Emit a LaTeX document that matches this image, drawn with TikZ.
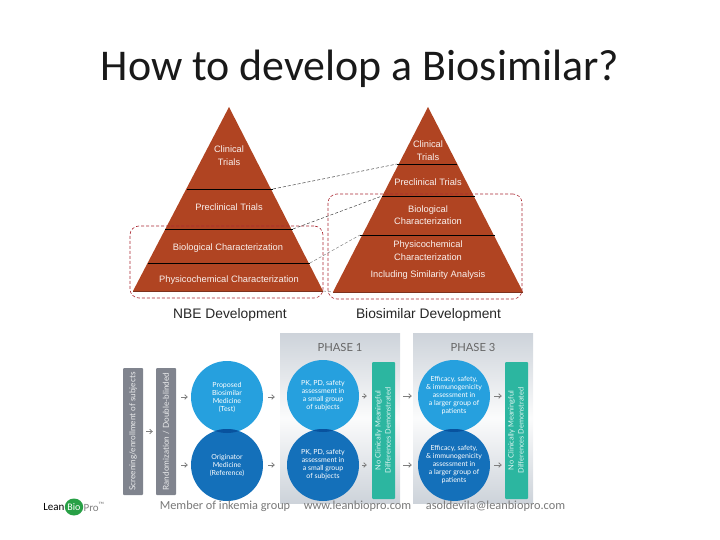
\documentclass[tikz,border=0pt]{standalone}
\usepackage{fontspec}
\usepackage{graphicx}
\setmainfont{Liberation Sans}
\newfontfamily\titlefont{Carlito}
\newfontfamily\trialfont{Lato}
\usetikzlibrary{shapes.geometric, arrows.meta}
\definecolor{rust}{RGB}{176, 68, 34}
\definecolor{rustdark}{RGB}{125, 50, 30}
\definecolor{dashred}{RGB}{170, 40, 50}
\definecolor{slategray}{RGB}{128, 132, 142}
\definecolor{skyblue}{RGB}{38, 160, 222}
\definecolor{deepblue}{RGB}{20, 112, 186}
\definecolor{lensblue}{RGB}{8, 82, 158}
\definecolor{teal}{RGB}{44, 182, 160}
\definecolor{panelgray}{RGB}{205, 211, 218}
\definecolor{footgray}{RGB}{120, 120, 120}
\definecolor{logogreen}{RGB}{40, 160, 70}
\tikzset{
  pyramid/.style={fill=rust, draw=none},
  tierline/.style={draw=black, line width=0.7pt},
  pyrlabel/.style={text=white!92!rust, font=\fontsize{9.3}{10}\selectfont, inner sep=0pt, align=center},
  caption/.style={text=black!85, font=\fontsize{13.8}{16}\selectfont, inner sep=0pt},
  similar/.style={draw=dashred, densely dashed, line width=0.6pt, rounded corners=9pt},
  linkline/.style={draw=black!75, densely dashed, line width=0.5pt},
  greybar/.style={fill=slategray, rounded corners=1pt, minimum width=20pt, minimum height=127pt, inner sep=0pt, text=white!85!slategray, font=\trialfont\fontsize{8.2}{10}\selectfont},
  tealbar/.style={fill=teal, rounded corners=1pt, minimum width=23pt, minimum height=137pt, inner sep=0pt, text=white!85!teal, font=\trialfont\fontsize{7.4}{10}\selectfont},
  topdisc/.style={circle, fill=skyblue, minimum size=72pt, inner sep=0pt, text=white, align=center, font=\trialfont\fontsize{7}{8}\selectfont},
  lowdisc/.style={circle, fill=deepblue, minimum size=72pt, inner sep=0pt, text=white, align=center, font=\trialfont\fontsize{7}{8}\selectfont},
  panel/.style={top color=panelgray, bottom color=panelgray, middle color=white!92!panelgray, minimum width=120pt, minimum height=170pt, inner sep=0pt},
  phasetitle/.style={text=black!60, inner sep=0pt, font=\trialfont\fontsize{11.2}{12}\selectfont},
  flow/.style={draw=gray, line width=0.8pt, -{Straight Barb[length=2.5pt,width=4.5pt]}},
  footer/.style={text=footgray, inner sep=0pt, font=\titlefont\fontsize{12.3}{13}\selectfont}
}
\begin{document}
\begin{tikzpicture}[x=1pt, y=-1pt]
  \useasboundingbox (0,0) rectangle (720,540);
  \node[inner sep=0pt, font=\titlefont\fontsize{43.9}{46}\selectfont, text=black!90] (title) at (360,69) {How to develop a Biosimilar?};

  % NBE pyramid
  \coordinate (nbeapex) at (229,107);
  \coordinate (nbeleft) at (133,291);
  \coordinate (nberight) at (323,291);
  \coordinate (nbeclinR) at (273,189);
  \coordinate (nbepreR) at (293,229);
  \coordinate (nbebioR) at (310,263);
  \fill[pyramid] (nbeapex) -- (nberight) -- (nbeleft) -- cycle;
  \draw[tierline] (187,189) -- (nbeclinR);
  \draw[tierline] (165,229) -- (nbepreR);
  \draw[tierline] (148,263) -- (nbebioR);
  \draw[draw=rustdark, line width=0.8pt] (nbeleft) -- (nberight);
  \node[pyrlabel] (nbeclin) at (229,155.5) {Clinical\\[2.6pt]Trials};
  \node[pyrlabel] (nbepre) at (229,207) {Preclinical Trials};
  \node[pyrlabel] (nbebio) at (228,248) {Biological Characterization};
  \node[pyrlabel] (nbephys) at (229,280) {Physicochemical Characterization};
  \node[caption] (nbecap) at (230,315) {NBE Development};
  \node[similar, minimum width=193pt, minimum height=72pt] (nbebox) at (226.5,262) {};

  % biosimilar pyramid
  \coordinate (bsapex) at (428,107);
  \coordinate (bsleft) at (333,292);
  \coordinate (bsright) at (523,292);
  \coordinate (bsclinL) at (397,164);
  \coordinate (bspreL) at (382,196);
  \coordinate (bsbioL) at (360,235);
  \fill[pyramid] (bsapex) -- (bsright) -- (bsleft) -- cycle;
  \draw[tierline] (bsclinL) -- (457,164);
  \draw[tierline] (bspreL) -- (475,196);
  \draw[tierline] (bsbioL) -- (495,235);
  \draw[draw=rustdark, line width=0.8pt] (bsleft) -- (bsright);
  \node[pyrlabel] (bsclin) at (428,150.5) {Clinical\\[2.6pt]Trials};
  \node[pyrlabel] (bspre) at (428,182) {Preclinical Trials};
  \node[pyrlabel] (bsbio) at (428,215) {Biological\\[2.6pt]Characterization};
  \node[pyrlabel] (bsphys) at (428,250.5) {Physicochemical\\[2.6pt]Characterization};
  \node[pyrlabel] (bsincl) at (428,275) {Including Similarity Analysis};
  \node[caption] (bscap) at (428.5,315) {Biosimilar Development};
  \node[similar, minimum width=194pt, minimum height=105pt] (bsbox) at (425,246.5) {};

  % links between the two
  \draw[linkline] (nbeclinR) -- (bsclinL);
  \draw[linkline] (nbepreR) -- (bspreL);
  \draw[linkline, draw=black!50] (nbebioR) -- (bsbioL);
  \draw[linkline, draw=black!50] (nberight) -- (bsleft);

  % trial scheme
  \node[panel] (phaseone) at (340,418) {};
  \node[panel] (phasethree) at (473,418) {};
  \node[phasetitle] (phaseonelabel) at (340,347) {PHASE 1};
  \node[phasetitle] (phasethreelabel) at (473,347) {PHASE 3};

  \node[greybar] (screening) at (133,431.5) {\rotatebox{90}{Screening/enrollment of subjects}};
  \node[greybar] (randomized) at (166,431.5) {\rotatebox{90}{Randomization / Double-blinded}};

  \node[topdisc] (proposed) at (227,397) {Proposed\\Biosimilar\\Medicine\\(Test)};
  \node[lowdisc] (originator) at (227,465) {Originator\\Medicine\\(Reference)};
  \node[topdisc] (pktop) at (323,396) {PK, PD, safety\\assessment in\\a small group\\of subjects};
  \node[lowdisc] (pklow) at (323,465) {PK, PD, safety\\assessment in\\a small group\\of subjects};
  \node[topdisc] (efftop) at (454,396) {Efficacy, safety,\\\& immunogenicity\\assessment in\\a larger group of\\patients};
  \node[lowdisc] (efflow) at (454,465) {Efficacy, safety,\\\& immunogenicity\\assessment in\\a larger group of\\patients};
  \foreach \upper/\lower in {proposed/originator, pktop/pklow, efftop/efflow} {
    \begin{scope}
      \clip (\upper) circle (36pt);
      \fill[lensblue] (\lower) circle (36pt);
    \end{scope}
  }

  \node[tealbar] (phaseonebar) at (383.5,430.5) {\rotatebox{90}{\begin{tabular}{@{}c@{}}No Clinically Meaningful\\Differences Demonstrated\end{tabular}}};
  \node[tealbar] (phasethreebar) at (516.5,430.5) {\rotatebox{90}{\begin{tabular}{@{}c@{}}No Clinically Meaningful\\Differences Demonstrated\end{tabular}}};

  \draw[flow, shorten <=3pt, shorten >=3pt] (screening) -- (randomized);
  \draw[flow, shorten <=5pt, shorten >=3pt] (randomized.east |- proposed) -- (proposed.west);
  \draw[flow, shorten <=5pt, shorten >=3pt] (randomized.east |- originator) -- (originator.west);
  \draw[flow, shorten <=5pt, shorten >=5pt] (proposed.east) -- (phaseone.west |- proposed);
  \draw[flow, shorten <=5pt, shorten >=5pt] (originator.east) -- (phaseone.west |- originator);
  \draw[flow, shorten <=3pt, shorten >=5pt] (pktop.east) -- (phaseonebar.west |- pktop);
  \draw[flow, shorten <=3pt, shorten >=5pt] (pklow.east) -- (phaseonebar.west |- pklow);
  \draw[flow, shorten <=3pt, shorten >=6pt] (phaseone.east |- pktop) -- (efftop.west);
  \draw[flow, shorten <=3pt, shorten >=6pt] (phaseone.east |- pklow) -- (efflow.west);
  \draw[flow, shorten <=4pt, shorten >=3pt] (efftop.east) -- (phasethreebar.west |- efftop);
  \draw[flow, shorten <=4pt, shorten >=3pt] (efflow.east) -- (phasethreebar.west |- efflow);

  % footer
  \node[footer] (member) at (225,506) {Member of inkemia group};
  \node[footer] (website) at (357.5,506) {www.leanbiopro.com};
  \node[footer] (email) at (495.5,506) {asoldevila@leanbiopro.com};
  \node[ellipse, fill=logogreen, minimum width=18pt, minimum height=17pt, inner sep=0pt, text=white, font=\titlefont\fontsize{10}{12}\selectfont] (logobio) at (74,507) {Bio};
  \node[anchor=east, inner sep=0pt, text=black, font=\titlefont\fontsize{11}{12}\selectfont] (logolean) at (logobio.west) {Lean};
  \node[anchor=west, inner sep=0pt, text=gray, font=\titlefont\fontsize{11}{12}\selectfont] (logopro) at (logobio.east) {Pro\textsuperscript{™}};
\end{tikzpicture}
\end{document}
